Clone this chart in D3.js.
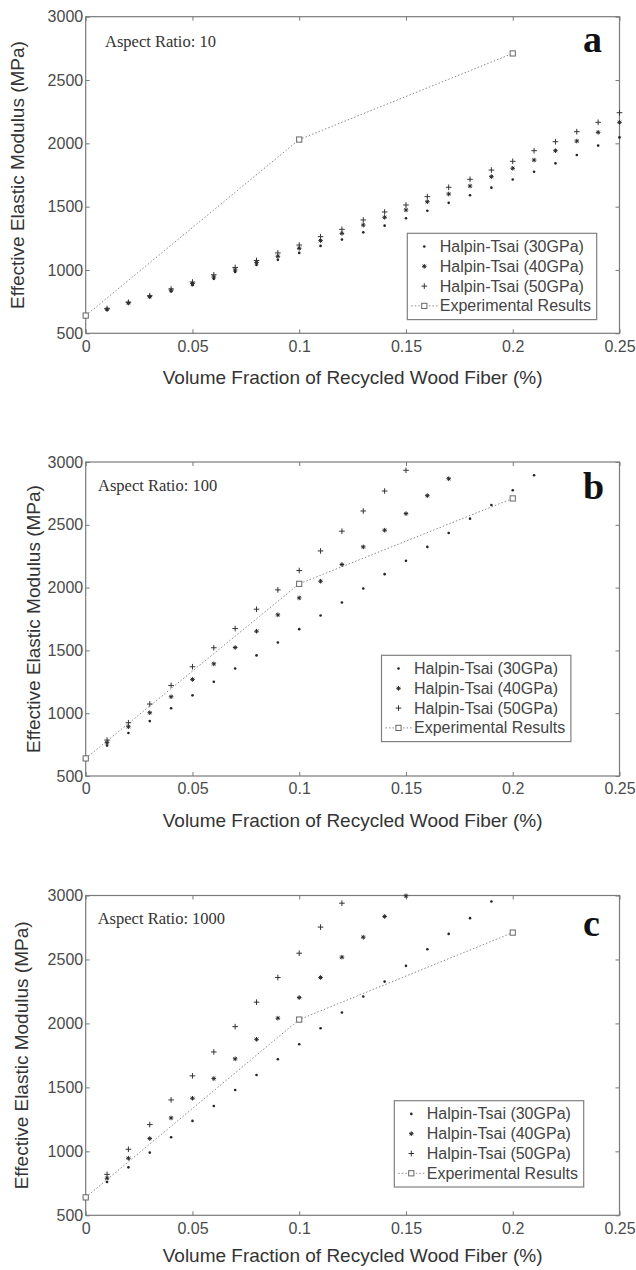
<!DOCTYPE html>
<html>
<head>
<meta charset="utf-8">
<script src="https://cdn.jsdelivr.net/npm/d3@7"></script>
<style>
  body { margin: 0; background: #fff; }
  svg { display: block; }
</style>
</head>
<body>
<div id="chart"></div>
<script>
// volume fractions where the Halpin-Tsai model was evaluated
const fractions = [0, 0.01, 0.02, 0.03, 0.04, 0.05, 0.06, 0.07, 0.08, 0.09, 0.10, 0.11, 0.12,
                   0.13, 0.14, 0.15, 0.16, 0.17, 0.18, 0.19, 0.20, 0.21, 0.22, 0.23, 0.24, 0.25];
const xTicks = [0, 0.05, 0.1, 0.15, 0.2, 0.25];
const yTicks = [500, 1000, 1500, 2000, 2500, 3000];
const seriesNames = ['Halpin-Tsai (30GPa)', 'Halpin-Tsai (40GPa)', 'Halpin-Tsai (50GPa)', 'Experimental Results'];

// experimental results (same in every panel)
const expFractions = [0, 0.1, 0.2];
const expModulus = [640, 2030, 2710];

// aspect ratio 10
const ar10_30 = [640, 685, 735, 785, 830, 880, 930, 985, 1040, 1080, 1135, 1190, 1240, 1297, 1350, 1408, 1468, 1530, 1590, 1650, 1715, 1776, 1842, 1908, 1982, 2047];
const ar10_40 = [640, 690, 740, 790, 840, 893, 945, 1000, 1058, 1108, 1171, 1232, 1289, 1355, 1416, 1474, 1539, 1600, 1663, 1737, 1803, 1868, 1942, 2018, 2087, 2166];
const ar10_50 = [640, 695, 745, 797, 850, 905, 962, 1020, 1075, 1135, 1197, 1263, 1321, 1395, 1458, 1513, 1579, 1653, 1716, 1789, 1858, 1942, 2013, 2092, 2166, 2242];

// aspect ratio 100 (points above 3000 are off the chart)
const ar100_30 = [640, 742, 842, 937, 1040, 1142, 1250, 1356, 1460, 1563, 1669, 1778, 1881, 1993, 2107, 2213, 2324, 2435, 2549, 2658, 2775, 2894];
const ar100_40 = [640, 765, 892, 1004, 1131, 1269, 1393, 1523, 1653, 1783, 1918, 2051, 2184, 2324, 2457, 2589, 2732, 2867];
const ar100_50 = [640, 786, 924, 1073, 1221, 1370, 1521, 1674, 1828, 1982, 2136, 2292, 2449, 2610, 2769, 2934];

// aspect ratio 1000
const ar1000_30 = [640, 760, 875, 990, 1110, 1238, 1355, 1480, 1597, 1720, 1837, 1962, 2085, 2210, 2327, 2450, 2580, 2700, 2823, 2953];
const ar1000_40 = [640, 790, 946, 1100, 1261, 1415, 1569, 1723, 1876, 2041, 2202, 2359, 2518, 2674, 2836, 2997];
const ar1000_50 = [640, 820, 1016, 1209, 1402, 1590, 1777, 1975, 2166, 2359, 2549, 2753, 2940];

const width = 636;
const height = 1270;
const sans = 'Liberation Sans, Arial, Helvetica, sans-serif';
const serif = 'Liberation Serif, Times New Roman, serif';

const svg = d3.select('#chart')
  .append('svg')
  .attr('width', width)
  .attr('height', height)
  .style('background', '#fff');

const xScale = d3.scaleLinear().domain([0, 0.25]).range([85.7, 619.5]);

// marker painters
const markers = {
  dot: (g) => g.append('circle').attr('r', 1.3).attr('fill', '#222'),
  star: (g) => g.append('path')
    .attr('d', 'M-2.3,0H2.3M0,-2.3V2.3M-1.6,-1.6L1.6,1.6M-1.6,1.6L1.6,-1.6')
    .attr('stroke', '#2a2a2a').attr('stroke-width', 1).attr('fill', 'none'),
  plus: (g) => g.append('path')
    .attr('d', 'M-2.8,0H2.8M0,-2.8V2.8')
    .attr('stroke', '#333').attr('stroke-width', 1).attr('fill', 'none'),
  square: (g) => g.append('rect').attr('x', -2.6).attr('y', -2.6).attr('width', 5.2).attr('height', 5.2)
    .attr('fill', '#fff').attr('stroke', '#666').attr('stroke-width', 1),
};

const panels = [
  { series: [ar10_30, ar10_40, ar10_50], ratio: 'Aspect Ratio: 10', letter: 'a',
    top: 16.7, bottom: 333.3, ratioX: 105, ratioY: 46.7, letterY: 52.3, xlabY: 384, ylabX: 24,
    legend: { x: 407.3, y: 233.3 } },
  { series: [ar100_30, ar100_40, ar100_50], ratio: 'Aspect Ratio: 100', letter: 'b',
    top: 462, bottom: 776, ratioX: 98, ratioY: 491, letterY: 499, xlabY: 827, ylabX: 40,
    legend: { x: 381.5, y: 655.3 } },
  { series: [ar1000_30, ar1000_40, ar1000_50], ratio: 'Aspect Ratio: 1000', letter: 'c',
    top: 895.5, bottom: 1215.3, ratioX: 97.7, ratioY: 924.3, letterY: 936, xlabY: 1262, ylabX: 28,
    legend: { x: 394.3, y: 1100.7 } },
];

panels.forEach(drawPanel);

function drawPanel(p) {
  const yScale = d3.scaleLinear().domain([500, 3000]).range([p.bottom, p.top]);
  const g = svg.append('g');
  const [x0, x1] = xScale.range();

  // axes (MATLAB style: inward ticks on all four sides)
  const axisColor = '#7a7a7a';
  const styleAxis = (a) => {
    a.select('.domain').remove();
    a.selectAll('line').attr('stroke', axisColor);
    a.selectAll('text').attr('fill', '#4a4a4a').style('font-family', sans).style('font-size', '16px');
  };
  g.append('g').attr('transform', `translate(0,${p.bottom})`)
    .call(d3.axisBottom(xScale).tickValues(xTicks).tickSize(-4).tickPadding(7).tickFormat(d3.format('~g')))
    .call(styleAxis);
  g.append('g').attr('transform', `translate(0,${p.top})`)
    .call(d3.axisTop(xScale).tickValues(xTicks).tickSize(-4).tickFormat(''))
    .call(styleAxis);
  g.append('g').attr('transform', `translate(${x0},0)`)
    .call(d3.axisLeft(yScale).tickValues(yTicks).tickSize(-4).tickPadding(2.5).tickFormat(d3.format('d')))
    .call(styleAxis);
  g.append('g').attr('transform', `translate(${x1},0)`)
    .call(d3.axisRight(yScale).tickValues(yTicks).tickSize(-4).tickFormat(''))
    .call(styleAxis);
  g.append('rect')
    .attr('x', x0).attr('y', p.top)
    .attr('width', x1 - x0).attr('height', p.bottom - p.top)
    .attr('fill', 'none').attr('stroke', axisColor).attr('stroke-width', 1.2);

  // experimental line
  const expPts = expFractions.map((f, i) => [f, expModulus[i]]);
  g.append('path')
    .datum(expPts)
    .attr('d', d3.line().x((d) => xScale(d[0])).y((d) => yScale(d[1])))
    .attr('fill', 'none').attr('stroke', '#8a8a8a').attr('stroke-width', 1)
    .attr('stroke-dasharray', '1.5,2');

  // Halpin-Tsai points
  const kinds = ['dot', 'star', 'plus'];
  p.series.forEach((vals, si) => {
    g.append('g').selectAll('g')
      .data(vals.map((v, i) => [fractions[i], v]))
      .join('g')
      .attr('transform', (d) => `translate(${xScale(d[0])},${yScale(d[1])})`)
      .each(function () { markers[kinds[si]](d3.select(this)); });
  });

  g.append('g').selectAll('g')
    .data(expPts)
    .join('g')
    .attr('transform', (d) => `translate(${xScale(d[0])},${yScale(d[1])})`)
    .each(function () { markers.square(d3.select(this)); });

  // labels
  g.append('text')
    .attr('x', (x0 + x1) / 2).attr('y', p.xlabY)
    .attr('text-anchor', 'middle')
    .style('font-family', sans).style('font-size', '19px').attr('fill', '#333')
    .text('Volume Fraction of Recycled Wood Fiber (%)');
  g.append('text')
    .attr('transform', `translate(${p.ylabX},${(p.top + p.bottom) / 2}) rotate(-90)`)
    .attr('text-anchor', 'middle')
    .style('font-family', sans).style('font-size', '19px').attr('fill', '#333')
    .text('Effective Elastic Modulus (MPa)');
  g.append('text')
    .attr('x', p.ratioX).attr('y', p.ratioY)
    .style('font-family', serif).style('font-size', '16.5px').attr('fill', '#333')
    .text(p.ratio);
  g.append('text')
    .attr('x', 583).attr('y', p.letterY)
    .style('font-family', serif).style('font-size', '38px').style('font-weight', 'bold').attr('fill', '#111')
    .text(p.letter);

  // legend
  const lg = g.append('g').attr('transform', `translate(${p.legend.x},${p.legend.y})`);
  lg.append('rect').attr('width', 189.4).attr('height', 86.3)
    .attr('fill', '#fff').attr('stroke', '#808080').attr('stroke-width', 1.2);
  const legendKinds = ['dot', 'star', 'plus', 'square'];
  seriesNames.forEach((name, i) => {
    const baseline = 18.7 + i * 19.8;
    const row = lg.append('g');
    if (legendKinds[i] === 'square') {
      row.append('line').attr('x1', 4).attr('x2', 30)
        .attr('y1', baseline - 5.5).attr('y2', baseline - 5.5)
        .attr('stroke', '#8a8a8a').attr('stroke-dasharray', '1.5,2');
    }
    const m = row.append('g').attr('transform', `translate(17,${baseline - 5.5})`);
    markers[legendKinds[i]](m);
    row.append('text')
      .attr('x', 32.5).attr('y', baseline)
      .style('font-family', sans).style('font-size', '16px').attr('fill', '#444')
      .text(name);
  });
}
</script>
</body>
</html>
